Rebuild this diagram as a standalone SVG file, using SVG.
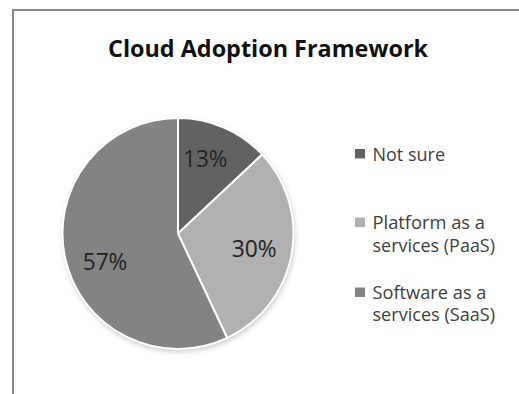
<svg xmlns="http://www.w3.org/2000/svg" width="519" height="394" viewBox="0 0 519 394">
<defs>
<style>
.title{font-family:"Open Sans","Liberation Sans",sans-serif;font-weight:bold;font-size:22.5px;fill:#111}
.pct{font-family:"Open Sans","Liberation Sans",sans-serif;font-size:24px;fill:#222}
.leg{font-family:"Open Sans","Liberation Sans",sans-serif;font-size:18px;fill:#404040}
.slice{stroke:#fff;stroke-width:2;stroke-linejoin:round}
</style>
<filter id="sh" x="-20%" y="-20%" width="140%" height="140%">
<feGaussianBlur stdDeviation="2.5"/>
</filter>
</defs>
<rect x="13" y="10" width="600" height="500" fill="#fff" stroke="#888" stroke-width="2"/>
<text class="title" x="268" y="56.5" text-anchor="middle" textLength="320" lengthAdjust="spacingAndGlyphs">Cloud Adoption Framework</text>
<g id="pie">
<circle cx="179" cy="236" r="116" fill="#999" opacity="0.5" filter="url(#sh)"/>
<g id="slice-notsure"><path class="slice" fill="#626262" d="M178,233.5 L178,118 A115.5,115.5 0 0 1 262.2,154.44 Z"/></g>
<g id="slice-paas"><path class="slice" fill="#b1b1b1" d="M178,233.5 L262.2,154.44 A115.5,115.5 0 0 1 227.18,338 Z"/></g>
<g id="slice-saas"><path class="slice" fill="#838383" d="M178,233.5 L227.18,338 A115.5,115.5 0 1 1 178,118 Z"/></g>
<text class="pct" x="183" y="167.3" textLength="44.5" lengthAdjust="spacingAndGlyphs">13%</text>
<text class="pct" x="231.7" y="256.7" textLength="45" lengthAdjust="spacingAndGlyphs">30%</text>
<text class="pct" x="82.7" y="270" textLength="44.6" lengthAdjust="spacingAndGlyphs">57%</text>
</g>
<g id="legend">
<g id="leg-notsure"><rect x="355" y="149" width="10" height="9.5" fill="#626262"/><text class="leg" x="372.5" y="160.7" textLength="72.5" lengthAdjust="spacingAndGlyphs">Not sure</text></g>
<g id="leg-paas"><rect x="355" y="217.5" width="10" height="9.5" fill="#b1b1b1"/><text class="leg" x="372.5" y="229" textLength="112.5" lengthAdjust="spacingAndGlyphs">Platform as a</text><text class="leg" x="372.5" y="251.5" textLength="122.5" lengthAdjust="spacingAndGlyphs">services (PaaS)</text></g>
<g id="leg-saas"><rect x="355" y="287.5" width="10" height="9.5" fill="#838383"/><text class="leg" x="372.5" y="298.5" textLength="114" lengthAdjust="spacingAndGlyphs">Software as a</text><text class="leg" x="372.5" y="321" textLength="122.5" lengthAdjust="spacingAndGlyphs">services (SaaS)</text></g>
</g>
</svg>
